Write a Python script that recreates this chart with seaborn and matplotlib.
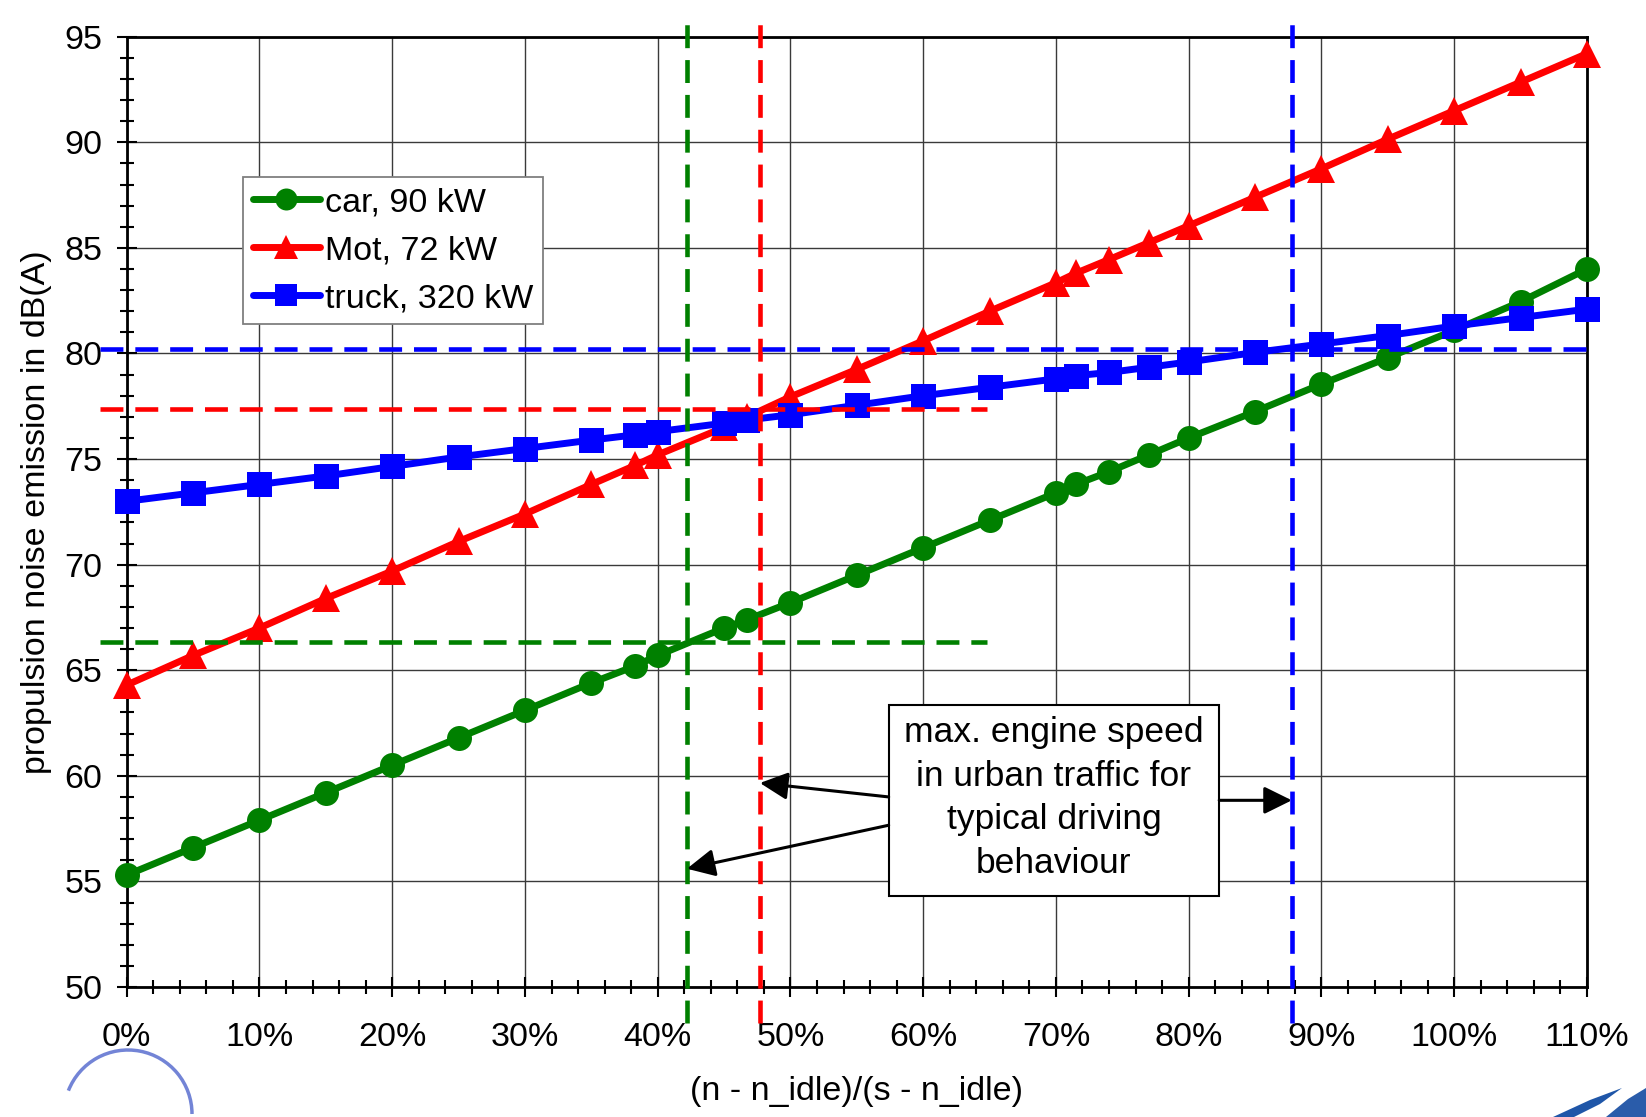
import matplotlib
matplotlib.use("Agg")
import matplotlib.pyplot as plt
import matplotlib.ticker as mticker
import matplotlib.patches as mpatches
import seaborn as sns

# ---- data ----
# relative engine speed (n - n_idle)/(s - n_idle), as fraction
speed = [0.00, 0.05, 0.10, 0.15, 0.20, 0.25, 0.30, 0.35, 0.383, 0.40, 0.45, 0.4675, 0.50,
         0.55, 0.60, 0.65, 0.70, 0.715, 0.74, 0.77, 0.80, 0.85, 0.90, 0.95, 1.00, 1.05, 1.10]

car_db = [55.3, 56.6, 57.9, 59.2, 60.5, 61.8, 63.1, 64.4, 65.2, 65.7, 67.0, 67.4, 68.2,
          69.5, 70.8, 72.1, 73.4, 73.8, 74.4, 75.2, 76.0, 77.25, 78.55, 79.8, 81.1, 82.45, 84.0]

mot_db = [64.3, 65.7, 67.0, 68.4, 69.7, 71.1, 72.4, 73.8, 74.7, 75.2, 76.5, 77.0, 77.95,
          79.25, 80.6, 82.0, 83.35, 83.8, 84.45, 85.25, 86.05, 87.4, 88.75, 90.15, 91.5, 92.85, 94.2]

truck_db = [73.0, 73.4, 73.8, 74.2, 74.65, 75.1, 75.5, 75.9, 76.15, 76.3, 76.7, 76.85, 77.1,
            77.55, 78.0, 78.4, 78.8, 78.95, 79.1, 79.35, 79.6, 80.05, 80.45, 80.85, 81.3, 81.7, 82.1]

series_names = ["car, 90 kW", "Mot, 72 kW", "truck, 320 kW"]
series_colors = ["#008000", "#ff0000", "#0000ff"]
series_markers = ["o", "^", "s"]

# max engine speed in urban traffic and the corresponding level
limit_speed = [0.422, 0.477, 0.8777]
limit_level = [66.32, 77.38, 80.2]
limit_end = [0.648, 0.648, 1.102]

# ---- style ----
sns.set_style("ticks")
plt.rcParams["font.family"] = ["Liberation Sans", "DejaVu Sans"]
plt.rcParams["text.color"] = "black"
plt.rcParams["axes.labelcolor"] = "black"
plt.rcParams["xtick.color"] = "black"
plt.rcParams["ytick.color"] = "black"

fig = plt.figure(figsize=(16.46, 11.17), dpi=100)
ax = fig.add_axes([0.0770, 0.1164, 0.8871, 0.8507])

msizes = [18, 19.5, 18]
for name, vals, col, mk, ms in zip(series_names, [car_db, mot_db, truck_db],
                                   series_colors, series_markers, msizes):
    sns.lineplot(x=speed, y=vals, ax=ax, color=col, marker=mk, markersize=ms,
                 markeredgecolor=col, markeredgewidth=0, lw=5, label=name,
                 zorder=3, errorbar=None, clip_on=False)

# dashed guide lines (they run a little outside the frame)
dash = (0, (5, 2.6))
for sp, lv, xe, col in zip(limit_speed, limit_level, limit_end, series_colors):
    ax.plot([sp, sp], [48.3, 96.0], color=col, ls=dash, lw=3.3, clip_on=False, zorder=4)
    ax.plot([-0.02, xe], [lv, lv], color=col, ls=dash, lw=3.3, clip_on=False, zorder=4)

ax.set_xlim(0, 1.1)
ax.set_ylim(50, 95)
ax.xaxis.set_major_locator(mticker.MultipleLocator(0.1))
ax.xaxis.set_minor_locator(mticker.MultipleLocator(0.02))
ax.xaxis.set_major_formatter(mticker.PercentFormatter(1.0, decimals=0))
ax.yaxis.set_major_locator(mticker.MultipleLocator(5))
ax.yaxis.set_minor_locator(mticker.MultipleLocator(1))

ax.grid(True, which="major", color="#3a3a3a", lw=1.0)
ax.set_axisbelow(True)
for s in ax.spines.values():
    s.set_linewidth(2)
    s.set_color("black")

ax.tick_params(which="both", direction="inout", color="black", labelcolor="black",
               width=1.5, bottom=True, left=True, top=False, right=False, labelsize=24.5)
ax.tick_params(which="major", length=15)
ax.tick_params(which="minor", length=10)
ax.tick_params(axis="x", pad=18)
ax.tick_params(axis="y", pad=10)

ax.set_xlabel("(n - n_idle)/(s - n_idle)", fontsize=24.5, labelpad=16, color="black")
ax.set_ylabel("propulsion noise emission in dB(A)", fontsize=24.5, labelpad=9, color="black")

leg = ax.legend(loc="upper left", bbox_to_anchor=(0.0796, 0.8524), borderaxespad=0,
                fontsize=24.5, frameon=True, fancybox=False, framealpha=1,
                edgecolor="#7f7f7f", borderpad=0.3, handlelength=1.95,
                handletextpad=0.15, labelspacing=0.5, markerscale=0.88)
leg.get_frame().set_linewidth(1.3)
for t in leg.get_texts():
    t.set_color("black")

# annotation box with arrows
box = mpatches.Rectangle((0.574, 54.29), 0.249, 9.08, facecolor="white",
                         edgecolor="black", lw=1.5, zorder=5)
ax.add_patch(box)
ax.text(0.6985, 58.95, "max. engine speed\nin urban traffic for\ntypical driving\nbehaviour",
        ha="center", va="center", fontsize=25.5, linespacing=1.4, zorder=6, color="black")

arrow_kw = dict(arrowstyle="-|>,head_length=0.85,head_width=0.42", mutation_scale=20,
                lw=2.2, color="black", shrinkA=0, shrinkB=0)
ax.annotate("", xy=(0.477, 59.66), xytext=(0.574, 59.0), arrowprops=arrow_kw, zorder=6)
ax.annotate("", xy=(0.422, 55.6), xytext=(0.574, 57.66), arrowprops=arrow_kw, zorder=6)
ax.annotate("", xy=(0.8777, 58.84), xytext=(0.823, 58.84), arrowprops=arrow_kw, zorder=6)

# logo fragments in the bottom corners
W, H = 1646.0, 1117.0
arc = mpatches.Arc((128 / W, 3 / H), 128 / W, 128 / H, theta1=0, theta2=150,
                   transform=fig.transFigure, color="#5a6fcf", lw=2.5, alpha=0.85)
fig.patches.append(arc)
blade = [(1553, 1117), (1590, 1100), (1622, 1088), (1600, 1104), (1574, 1117)]
fig.patches.append(mpatches.Polygon([(x / W, (H - y) / H) for x, y in blade],
                                    closed=True, transform=fig.transFigure,
                                    facecolor="#1f56a8", edgecolor="none"))
block = [(1606, 1117), (1628, 1099), (1646, 1088), (1646, 1117)]
fig.patches.append(mpatches.Polygon([(x / W, (H - y) / H) for x, y in block],
                                    closed=True, transform=fig.transFigure,
                                    facecolor="#2a5caa", edgecolor="none"))

fig.savefig("out.png", dpi=100)
